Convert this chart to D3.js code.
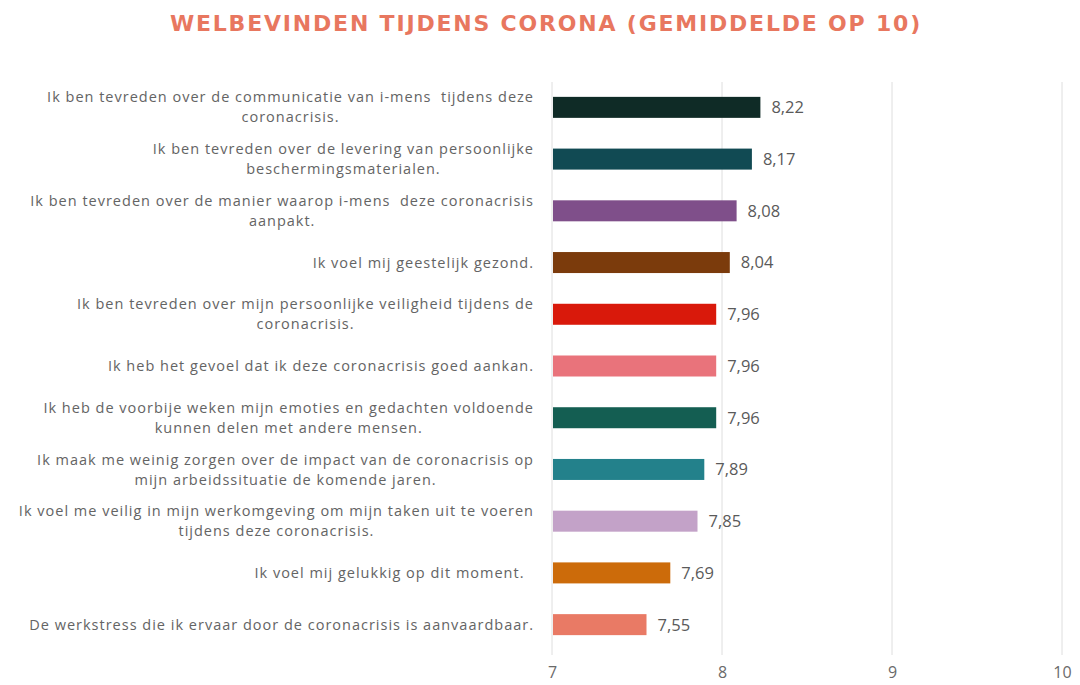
<!DOCTYPE html>
<html>
<head>
<meta charset="utf-8">
<script src="https://cdn.jsdelivr.net/npm/d3@7"></script>
<style>
  body { margin: 0; background: #fff; }
  svg text { font-family: "Open Sans", "Liberation Sans", sans-serif; white-space: pre; }
</style>
</head>
<body>
<div id="chart"></div>
<script>
/**
 * DATA
 * */
const title = "WELBEVINDEN TIJDENS CORONA (GEMIDDELDE OP 10)";

// each statement already split into the lines shown in the picture
const statements = [
  ["Ik ben tevreden over de communicatie van i-mens  tijdens deze", "coronacrisis."],
  ["Ik ben tevreden over de levering van persoonlijke", "beschermingsmaterialen."],
  ["Ik ben tevreden over de manier waarop i-mens  deze coronacrisis", "aanpakt."],
  ["Ik voel mij geestelijk gezond."],
  ["Ik ben tevreden over mijn persoonlijke veiligheid tijdens de", "coronacrisis."],
  ["Ik heb het gevoel dat ik deze coronacrisis goed aankan."],
  ["Ik heb de voorbije weken mijn emoties en gedachten voldoende", "kunnen delen met andere mensen."],
  ["Ik maak me weinig zorgen over de impact van de coronacrisis op", "mijn arbeidssituatie de komende jaren."],
  ["Ik voel me veilig in mijn werkomgeving om mijn taken uit te voeren", "tijdens deze coronacrisis."],
  ["Ik voel mij gelukkig op dit moment.  "],
  ["De werkstress die ik ervaar door de coronacrisis is aanvaardbaar."]
];

const scores = [8.22, 8.17, 8.08, 8.04, 7.96, 7.96, 7.96, 7.89, 7.85, 7.69, 7.55];

const barColors = ["#0f2b26", "#114a53", "#7f4f8a", "#7b3b0c", "#d9190b", "#e9737b",
                   "#145e52", "#23818b", "#c3a2c8", "#cc6b0a", "#e97a65"];

const xTicks = [7, 8, 9, 10];

/**
 * CONSTANTS
 * */
const width = 1080,
  height = 685,
  margin = { top: 71, bottom: 24, left: 552, right: 18 };

const data = statements.map((lines, i) => ({
  id: i,
  lines: lines,
  value: scores[i],
  color: barColors[i]
}));

const svg = d3.select("#chart")
  .append("svg")
  .attr("width", width)
  .attr("height", height);

const x = d3.scaleLinear()
  .domain([7, 10])
  .range([margin.left, width - margin.right]);

const y = d3.scaleBand()
  .domain(data.map(d => d.id))
  .range([margin.top, height - margin.bottom])
  .paddingInner(0.594)
  .paddingOuter(0.5);

// title
svg.append("text")
  .attr("x", 546)
  .attr("y", 31)
  .attr("text-anchor", "middle")
  .style("font-family", "'DejaVu Sans', Verdana, sans-serif")
  .style("font-weight", "bold")
  .style("font-size", "22px")
  .style("letter-spacing", "1.8px")
  .attr("fill", "#e8775f")
  .text(title);

// gridlines
svg.append("g")
  .selectAll("line")
  .data(xTicks)
  .join("line")
  .attr("x1", d => x(d))
  .attr("x2", d => x(d))
  .attr("y1", 82)
  .attr("y2", 655)
  .attr("stroke", "#dedede")
  .attr("stroke-width", 1);

// x axis labels
const xAxis = d3.axisBottom(x)
  .tickValues(xTicks)
  .tickFormat(d3.format("d"))
  .tickSize(0)
  .tickPadding(0);

svg.append("g")
  .attr("transform", `translate(0, ${height - 18})`)
  .call(xAxis)
  .call(g => g.select(".domain").remove())
  .selectAll("text")
  .style("font-family", "'Open Sans', sans-serif")
  .style("font-size", "16px")
  .attr("fill", "#6a6a6a");

// bars
svg.append("g")
  .selectAll("rect")
  .data(data)
  .join("rect")
  .attr("x", x(7) + 1)
  .attr("y", d => y(d.id))
  .attr("width", d => x(d.value) - x(7))
  .attr("height", y.bandwidth())
  .attr("fill", d => d.color);

// value labels
svg.append("g")
  .selectAll("text")
  .data(data)
  .join("text")
  .attr("x", d => x(d.value) + 12)
  .attr("y", d => y(d.id) + y.bandwidth() / 2)
  .attr("dy", "0.36em")
  .style("font-size", "16.5px")
  .attr("fill", "#5a5a5a")
  .text(d => d3.format(".2f")(d.value).replace(".", ","));

// category labels: wrapped block, lines centred, block right-aligned
const labelRight = 534,
  lineHeight = 20;

const labels = svg.append("g")
  .selectAll("g")
  .data(data)
  .join("g");

labels.each(function (d) {
  const g = d3.select(this);
  const cy = y(d.id) + y.bandwidth() / 2;
  const n = d.lines.length;
  const texts = g.selectAll("text")
    .data(d.lines)
    .join("text")
    .attr("y", (l, i) => cy + (i - (n - 1) / 2) * lineHeight)
    .attr("dy", "0.35em")
    .style("font-size", "14.5px")
    .style("letter-spacing", "1px")
    .attr("fill", "#646464")
    .attr("text-anchor", "middle")
    .text(l => l);
  let maxW = 0;
  texts.each(function () { maxW = Math.max(maxW, this.getComputedTextLength()); });
  texts.attr("x", labelRight - maxW / 2);
});
</script>
</body>
</html>
